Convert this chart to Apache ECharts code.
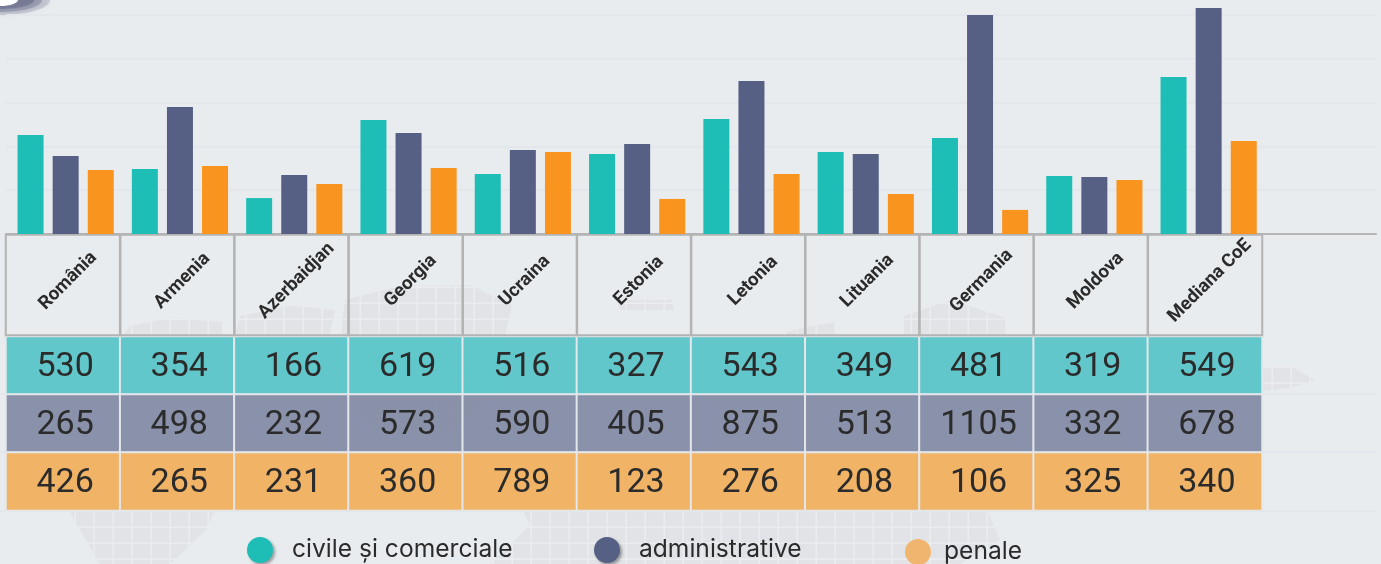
<!DOCTYPE html>
<html>
<head>
<meta charset="utf-8">
<style>
  html, body { margin: 0; padding: 0; background: #e9ecef; }
  #chart { width: 1381px; height: 564px; }
</style>
</head>
<body>
<div id="chart"></div>
<script src="https://cdn.jsdelivr.net/npm/echarts@6/dist/echarts.min.js"></script>
<script>
const countries = ['România', 'Armenia', 'Azerbaidjan', 'Georgia', 'Ucraina', 'Estonia', 'Letonia', 'Lituania', 'Germania', 'Moldova', 'Mediana CoE']
const seriesNames = ['civile și comerciale', 'administrative', 'penale']

// inaltimea barelor, citita de pe axa (nu coincide cu tabelul din imagine)
const barCivile = [452, 297, 164, 521, 274, 365, 525, 374, 438, 265, 717]
const barAdmin = [356, 580, 269, 461, 384, 411, 699, 365, 1000, 260, 1032]
const barPenale = [292, 311, 228, 301, 374, 160, 274, 183, 110, 247, 425]

// valorile scrise in tabel
const tableCivile = [530, 354, 166, 619, 516, 327, 543, 349, 481, 319, 549]
const tableAdmin = [265, 498, 232, 573, 590, 405, 875, 513, 1105, 332, 678]
const tablePenale = [426, 265, 231, 360, 789, 123, 276, 208, 106, 325, 340]

const barColors = ['#1EBDB5', '#556084', '#F9951E']
const rowColors = ['rgba(82,195,199,0.9)', 'rgba(128,135,162,0.9)', 'rgba(242,174,88,0.9)']
const bg = '#e9ecef'

// tile pentru harta din fundal
function mapPattern () {
  const tile = document.createElement('canvas')
  tile.width = 19
  tile.height = 16
  const ctx = tile.getContext('2d')
  ctx.fillStyle = '#dfe2e5'
  ctx.fillRect(0, 0, 19, 16)
  ctx.fillStyle = '#ebedf0'
  ctx.fillRect(17.5, 0, 1.5, 16)
  ctx.fillRect(0, 14.5, 19, 1.5)
  return {type: 'pattern', image: tile, repeat: 'repeat'}
}

const pattern = mapPattern()
const mapShapes = [
  [[345, 300], [400, 286], [470, 285], [512, 305], [505, 335], [500, 390], [440, 440], [360, 420], [340, 335]],
  [[240, 316], [290, 306], [335, 310], [330, 335], [235, 335]],
  [[130, 326], [170, 318], [222, 322], [222, 340], [120, 340]],
  [[616, 300], [672, 300], [674, 310], [620, 310]],
  [[787, 332], [812, 326], [836, 322], [836, 340], [787, 340]],
  [[904, 316], [950, 300], [1006, 318], [1006, 340], [904, 340]],
  [[1255, 366], [1290, 366], [1315, 380], [1290, 388], [1255, 392]],
  [[66, 505], [218, 505], [206, 530], [170, 564], [100, 564], [80, 530]],
  [[520, 505], [985, 505], [1000, 540], [960, 564], [490, 564], [530, 525]]
]

function buildTableCells () {
  const rows = [tableCivile, tableAdmin, tablePenale]
  const cells = []
  rows.forEach((row, r) => {
    row.forEach((v, i) => {
      cells.push({value: [i, r, v], itemStyle: {color: rowColors[r]}})
    })
  })
  return cells
}

const chart = echarts.init(document.getElementById('chart'), null, {renderer: 'canvas'})

const legendBase = {
  icon: 'circle',
  itemWidth: 26,
  itemHeight: 26,
  selectedMode: false,
  padding: 0,
  top: 537,
  textStyle: {
    fontFamily: 'Inter',
    fontSize: 24.6,
    color: '#2b2b2b',
    padding: [4, 0, 0, 14]
  }
}
const legendShadow = {shadowBlur: 3, shadowOffsetX: 2, shadowOffsetY: 2, shadowColor: 'rgba(0,0,0,0.35)'}

const swoosh = [[50, 15, 0.2], [42, 12, 0.3], [34, 9, 0.4]]

const option = {
  backgroundColor: bg,
  animation: false,
  graphic: [
    ...mapShapes.map(points => ({
      type: 'polygon',
      z: -1,
      silent: true,
      shape: {points},
      style: {fill: pattern, opacity: 0.8}
    })),
    ...swoosh.map(s => ({
      type: 'ellipse',
      z: -1,
      silent: true,
      shape: {cx: 0, cy: 0, rx: s[0], ry: s[1]},
      style: {fill: 'rgba(85,88,122,' + s[2] + ')', shadowBlur: 5, shadowColor: 'rgba(85,88,122,0.4)'}
    })),
    {
      type: 'ellipse',
      z: -1,
      silent: true,
      shape: {cx: 0, cy: 0, rx: 18, ry: 6},
      style: {fill: '#ffffff'}
    }
  ],
  legend: [
    {...legendBase, left: 247, data: [{name: seriesNames[0], itemStyle: {color: barColors[0], ...legendShadow}}]},
    {...legendBase, left: 594, data: [{name: seriesNames[1], itemStyle: {color: barColors[1], ...legendShadow}}]},
    {
      ...legendBase,
      left: 905,
      top: 539,
      textStyle: {...legendBase.textStyle, padding: [0, 0, 0, 8]},
      data: [{name: seriesNames[2], itemStyle: {color: '#F0B56F'}}]
    }
  ],
  grid: [
    {left: 8.5, top: 4, width: 1371.6, height: 230},
    {left: 6, top: 4, width: 1370, height: 230},
    {left: 0, top: 335, width: 1376, height: 175.5},
    {left: 6, top: 235, width: 1256, height: 100},
    {left: 6, top: 336.5, width: 1256, height: 174}
  ],
  xAxis: [
    {gridIndex: 0, type: 'category', data: [...countries, ''], show: false},
    {
      gridIndex: 1,
      type: 'value',
      min: 0,
      max: 1,
      axisLine: {show: true, lineStyle: {color: '#b5b5b5', width: 2}},
      axisTick: {show: false},
      axisLabel: {show: false},
      splitLine: {show: false}
    },
    {gridIndex: 2, type: 'value', min: 0, max: 1, show: false},
    {gridIndex: 3, type: 'category', data: countries, show: false},
    {gridIndex: 4, type: 'category', data: countries, show: false}
  ],
  yAxis: [
    {gridIndex: 0, type: 'value', min: 0, max: 1050, interval: 200, show: false},
    {
      gridIndex: 1,
      type: 'value',
      min: 0,
      max: 1050,
      interval: 200,
      axisLine: {show: false},
      axisTick: {show: false},
      axisLabel: {show: false},
      splitLine: {show: true, showMaxLine: false, lineStyle: {color: '#e3e6eb', width: 2}}
    },
    {
      gridIndex: 2,
      type: 'value',
      min: 0,
      max: 3,
      interval: 1,
      axisLine: {show: false},
      axisTick: {show: false},
      axisLabel: {show: false},
      splitLine: {show: true, showMaxLine: false, lineStyle: {color: '#e3e6eb', width: 2}}
    },
    {gridIndex: 3, type: 'category', data: ['tara'], show: false},
    {gridIndex: 4, type: 'category', data: seriesNames, inverse: true, show: false}
  ],
  series: [
    {name: seriesNames[0], type: 'bar', xAxisIndex: 0, yAxisIndex: 0, barWidth: 26, barGap: '35%', itemStyle: {color: barColors[0]}, data: barCivile},
    {name: seriesNames[1], type: 'bar', xAxisIndex: 0, yAxisIndex: 0, barWidth: 26, barGap: '35%', itemStyle: {color: barColors[1]}, data: barAdmin},
    {name: seriesNames[2], type: 'bar', xAxisIndex: 0, yAxisIndex: 0, barWidth: 26, barGap: '35%', itemStyle: {color: barColors[2]}, data: barPenale},
    {
      name: 'tabel',
      type: 'heatmap',
      xAxisIndex: 4,
      yAxisIndex: 4,
      itemStyle: {borderColor: '#e4e7ea', borderWidth: 2},
      label: {
        show: true,
        offset: [2, 2],
        fontFamily: 'Roboto',
        fontSize: 34,
        color: '#2b2b2b',
        formatter: params => params.value[2]
      },
      data: buildTableCells()
    },
    {
      name: 'antet',
      type: 'heatmap',
      xAxisIndex: 3,
      yAxisIndex: 3,
      itemStyle: {color: 'rgba(233,236,239,0.01)', borderColor: '#b3b3b3', borderWidth: 2},
      label: {
        show: true,
        rotate: 45,
        offset: [6.4, 0.7],
        fontFamily: 'Roboto',
        fontWeight: 'bold',
        fontSize: 18.5,
        color: '#2b2b2b',
        formatter: params => countries[params.value[0]]
      },
      data: countries.map((c, i) => [i, 0, i])
    }
  ]
}

chart.setOption(option)
</script>
</body>
</html>
